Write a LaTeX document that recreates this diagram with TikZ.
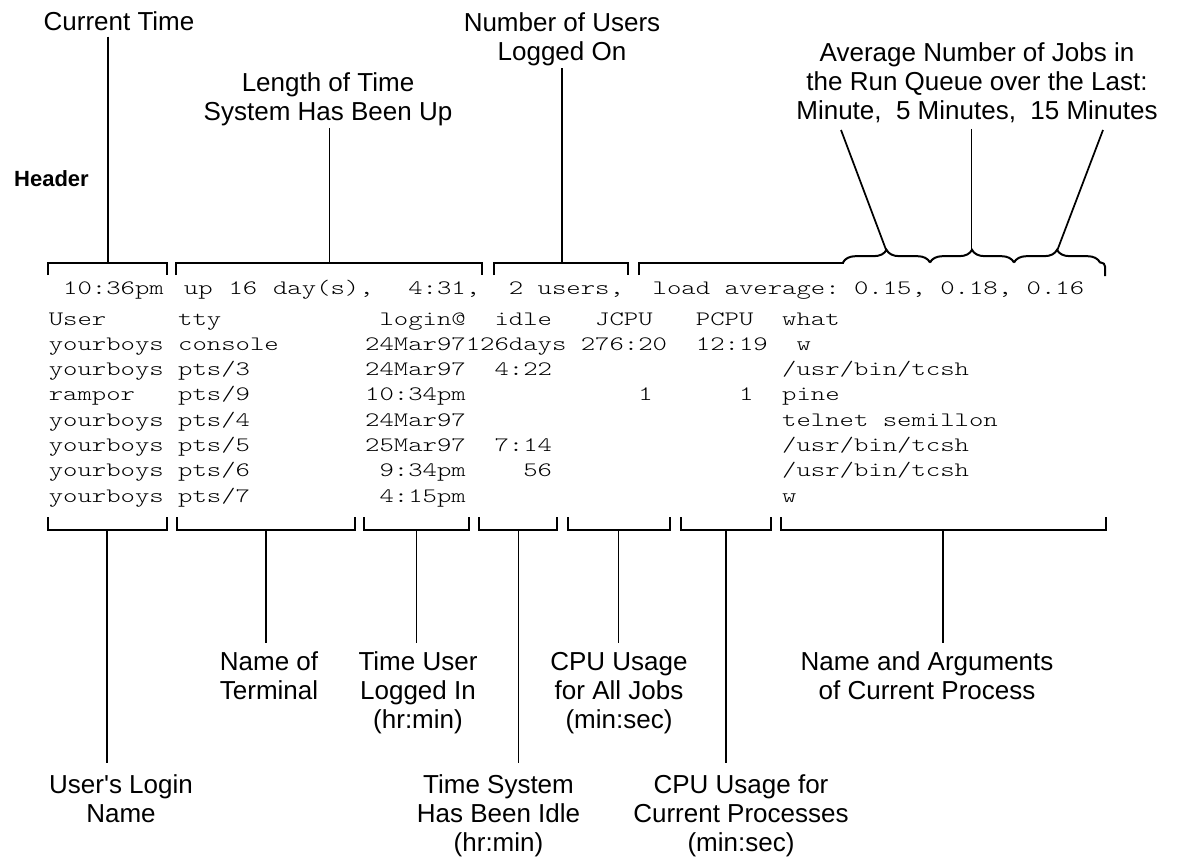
\documentclass[tikz,border=0pt]{standalone}
\usepackage{fontspec}
\setmainfont{Liberation Sans}
\newfontfamily\codefont{lmmonolt10-regular.otf}[FakeStretch=1.336]
\usetikzlibrary{decorations.pathreplacing}
\newcommand\lblfont{\fontsize{19.5}{21.75}\selectfont}
\newcommand\cdfont{\codefont\fontsize{15.375}{18}\selectfont}
\def\xo{48.5}
\def\cw{14.38}
\newcommand\mt[4]{\node[mono] (#1) at ({\xo+#2*\cw},#3) {#4};}
\begin{document}
\begin{tikzpicture}[x=0.75pt,y=-0.75pt,
  lbl/.style={font=\lblfont, align=center, anchor=base, inner sep=0pt},
  mono/.style={font=\cdfont, anchor=base west, inner sep=0pt},
  brk/.style={line width=1.5pt, line join=miter},
  conn/.style={line width=1.3pt},
  bracesty/.style={line width=1.5pt, decorate, decoration={brace, amplitude=9.5pt}}
]
\useasboundingbox (0,0) rectangle (1180,859);

% ---------- top labels (anchor = baseline of last line) ----------
\node[lbl] (ct) at (119,31) {Current Time};
\node[lbl] (lt) at (328,120.7) {Length of Time\\System Has Been Up};
\node[lbl] (nu) at (562,60.7) {Number of Users\\Logged On};
\node[lbl] (avg) at (977,120) {Average Number of Jobs in\\the Run Queue over the Last:\\Minute,\ \ 5 Minutes,\ \ 15 Minutes};
\node[font=\bfseries\fontsize{16.5}{18}\selectfont, anchor=base, inner sep=0pt] (hdr) at (51.5,186.7) {Header};

% ---------- top brackets ----------
\draw[brk] (48.3,275) |- (166.7,262.5) -- (166.7,275);
\draw[brk] (176,275) |- (482,262.5) -- (482,275);
\draw[brk] (494,275) |- (628,262.5) -- (628,275);
\draw[brk] (639,275) |- (843.5,262.5);
\draw[bracesty] (843,262.5) -- (930,262.5);
\draw[bracesty] (930,262.5) -- (1014,262.5);
\draw[bracesty] (1014,262.5) -- (1100,262.5);
\draw[brk, rounded corners=3pt] (1099.5,262.5) -- (1105,262.5) -- (1105,276);

\coordinate (tb1) at (108.3,262.5);
\coordinate (tb2) at (329.5,262.5);
\coordinate (tb3) at (562,262.5);
\coordinate (tip1) at (886.5,251);
\coordinate (tip2) at (971.5,251);
\coordinate (tip3) at (1057,251);
\coordinate (ctl) at (108.3,36.7);
\coordinate (ltl) at (329.5,128);
\coordinate (nul) at (562,68.3);
\coordinate (av1) at (841,130);
\coordinate (av2) at (971.5,129);
\coordinate (av3) at (1103,130);

\draw[conn] (ctl) -- (tb1);
\draw[conn] (ltl) -- (tb2);
\draw[conn] (nul) -- (tb3);
\draw[conn] (av1) -- (tip1);
\draw[conn] (av2) -- (tip2);
\draw[conn] (av3) -- (tip3);

% ---------- w output ----------
\mt{a1}{1}{294.3}{10:36pm}
\mt{a2}{9.4}{294.3}{up}
\mt{a3}{12.5}{294.3}{16}
\mt{a4}{15.6}{294.3}{day(s),}
\mt{a5}{25}{294.3}{4:31,}
\mt{a6}{32}{294.3}{2}
\mt{a7}{34}{294.3}{users,}
\mt{a8}{42}{294.3}{load}
\mt{a9}{47}{294.3}{average:}
\mt{a10}{56}{294.3}{0.15,}
\mt{a11}{62}{294.3}{0.18,}
\mt{a12}{68}{294.3}{0.16}

\mt{b1}{0}{325}{User}
\mt{b2}{9}{325}{tty}
\mt{b3}{23}{325}{login@}
\mt{b4}{31}{325}{idle}
\mt{b5}{38}{325}{JCPU}
\mt{b6}{45}{325}{PCPU}
\mt{b7}{51}{325}{what}

\mt{c1}{0}{350.3}{yourboys}
\mt{c2}{9}{350.3}{console}
\mt{c3}{22}{350.3}{24Mar97126days}
\mt{c4}{37}{350.3}{276:20}
\mt{c5}{45}{350.3}{12:19}
\mt{c6}{52}{350.3}{w}

\mt{d1}{0}{375.6}{yourboys}
\mt{d2}{9}{375.6}{pts/3}
\mt{d3}{22}{375.6}{24Mar97}
\mt{d4}{31}{375.6}{4:22}
\mt{d5}{51}{375.6}{/usr/bin/tcsh}

\mt{e1}{0}{400.9}{rampor}
\mt{e2}{9}{400.9}{pts/9}
\mt{e3}{22}{400.9}{10:34pm}
\mt{e4}{41}{400.9}{1}
\mt{e5}{48}{400.9}{1}
\mt{e6}{51}{400.9}{pine}

\mt{f1}{0}{426.2}{yourboys}
\mt{f2}{9}{426.2}{pts/4}
\mt{f3}{22}{426.2}{24Mar97}
\mt{f4}{51}{426.2}{telnet}
\mt{f5}{58}{426.2}{semillon}

\mt{g1}{0}{451.5}{yourboys}
\mt{g2}{9}{451.5}{pts/5}
\mt{g3}{22}{451.5}{25Mar97}
\mt{g4}{31}{451.5}{7:14}
\mt{g5}{51}{451.5}{/usr/bin/tcsh}

\mt{h1}{0}{476.8}{yourboys}
\mt{h2}{9}{476.8}{pts/6}
\mt{h3}{23}{476.8}{9:34pm}
\mt{h4}{33}{476.8}{56}
\mt{h5}{51}{476.8}{/usr/bin/tcsh}

\mt{i1}{0}{502.1}{yourboys}
\mt{i2}{9}{502.1}{pts/7}
\mt{i3}{23}{502.1}{4:15pm}
\mt{i4}{51}{502.1}{w}

% ---------- bottom brackets ----------
\draw[brk] (47.5,517) |- (167,530) -- (167,517);
\draw[brk] (176.5,517) |- (355,530) -- (355,517);
\draw[brk] (364,517) |- (469,530) -- (469,517);
\draw[brk] (479,517) |- (557,530) -- (557,517);
\draw[brk] (567.5,517) |- (670,530) -- (670,517);
\draw[brk] (681,517) |- (771,530) -- (771,517);
\draw[brk] (781,517) |- (1106,530) -- (1106,517);

\coordinate (bb1) at (106.8,530);
\coordinate (bb2) at (265.7,530);
\coordinate (bb3) at (416.6,530);
\coordinate (bb4) at (518.6,530);
\coordinate (bb5) at (618.5,530);
\coordinate (bb6) at (725.7,530);
\coordinate (bb7) at (942.9,530);
\coordinate (be1) at (106.8,763.3);
\coordinate (be2) at (265.7,643.3);
\coordinate (be3) at (416.6,643.3);
\coordinate (be4) at (518.6,763.3);
\coordinate (be5) at (618.5,643.3);
\coordinate (be6) at (725.7,763.3);
\coordinate (be7) at (942.9,643.3);

\draw[conn] (bb1) -- (be1);
\draw[conn] (bb2) -- (be2);
\draw[conn] (bb3) -- (be3);
\draw[conn] (bb4) -- (be4);
\draw[conn] (bb5) -- (be5);
\draw[conn] (bb6) -- (be6);
\draw[conn] (bb7) -- (be7);

% ---------- bottom labels (anchor = baseline of last line) ----------
\node[lbl] (nt) at (269,699) {Name of\\Terminal};
\node[lbl] (tu) at (418,728) {Time User\\Logged In\\(hr:min)};
\node[lbl] (cj) at (619,728) {CPU Usage\\for All Jobs\\(min:sec)};
\node[lbl] (na) at (927,699) {Name and Arguments\\of Current Process};
\node[lbl] (ul) at (121,822) {User\textquotesingle s Login\\Name};
\node[lbl] (ts) at (498.5,851) {Time System\\Has Been Idle\\(hr:min)};
\node[lbl] (cp) at (741,851) {CPU Usage for\\Current Processes\\(min:sec)};
\end{tikzpicture}
\end{document}
